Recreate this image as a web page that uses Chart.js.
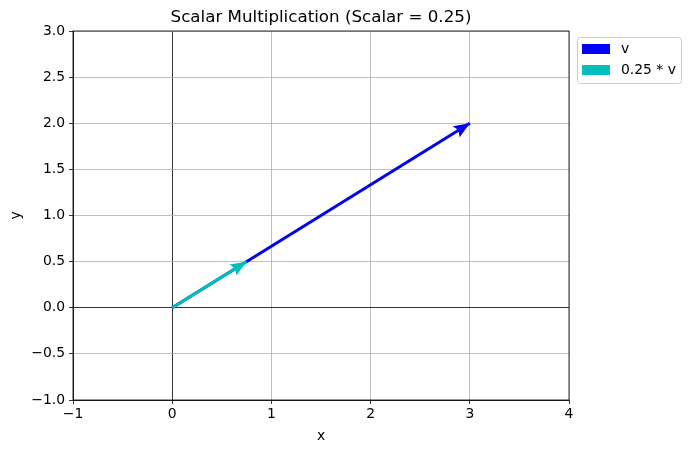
<!DOCTYPE html>
<html>
<head>
<meta charset="utf-8">
<script src="https://cdn.jsdelivr.net/npm/chart.js@4.4.1/dist/chart.umd.min.js"></script>
<style>
    html, body { margin: 0; padding: 0; background: #fff; }
    #wrap { width: 690px; height: 453px; }
</style>
</head>
<body>
<div id="wrap"><canvas id="chart" width="690" height="453"></canvas></div>
<script>
// Chart data
const vectorLabels = ['v', '0.25 * v'];
const vectorX = [3, 0.75];
const vectorY = [2, 0.5];
const vectorColors = ['#0000ff', '#00bfbf'];
const xTicks = [-1, 0, 1, 2, 3, 4];
const yTicks = [-1, -0.5, 0, 0.5, 1, 1.5, 2, 2.5, 3];

const FONT = '"DejaVu Sans", sans-serif';
const SHAFT = 3;

// Arrowheads, title, top/right spines and legend
const extras = {
    id: 'extras',
    afterDatasetsDraw(chart) {
        const ctx = chart.ctx;
        const xs = chart.scales.x, ys = chart.scales.y;
        // heads in dataset drawing order (blue first, cyan on top)
        [0, 1].forEach(i => {
            const x0 = xs.getPixelForValue(0), y0 = ys.getPixelForValue(0);
            const x1 = xs.getPixelForValue(vectorX[i]), y1 = ys.getPixelForValue(vectorY[i]);
            const ang = Math.atan2(y1 - y0, x1 - x0);
            const hl = 16, hal = 14, hw = 6.5;
            ctx.save();
            ctx.translate(x1, y1);
            ctx.rotate(ang);
            ctx.beginPath();
            ctx.moveTo(0, 0);
            ctx.lineTo(-hl, -hw);
            ctx.lineTo(-hal, -SHAFT / 2);
            ctx.lineTo(-hal, SHAFT / 2);
            ctx.lineTo(-hl, hw);
            ctx.closePath();
            ctx.fillStyle = vectorColors[i];
            ctx.fill();
            ctx.restore();
        });
    },
    afterDraw(chart) {
        const ctx = chart.ctx;
        const a = chart.chartArea;
        ctx.save();
        // frame
        ctx.strokeStyle = '#000';
        ctx.lineWidth = 0.8;
        ctx.strokeRect(a.left, a.top, a.right - a.left, a.bottom - a.top);

        // title
        ctx.fillStyle = '#000';
        ctx.font = '16.7px ' + FONT;
        ctx.textAlign = 'center';
        ctx.textBaseline = 'alphabetic';
        ctx.fillText('Scalar Multiplication (Scalar = 0.25)', (a.left + a.right) / 2, 22);

        // legend box
        const lx = 577, ly = 37, lw = 104, lh = 46;
        ctx.beginPath();
        ctx.roundRect(lx + 0.5, ly + 0.5, lw, lh, 3);
        ctx.fillStyle = 'rgba(255,255,255,0.8)';
        ctx.fill();
        ctx.strokeStyle = '#cccccc';
        ctx.lineWidth = 1;
        ctx.stroke();
        ctx.font = '13.9px ' + FONT;
        ctx.textAlign = 'left';
        ctx.textBaseline = 'middle';
        vectorLabels.forEach((lab, i) => {
            const ry = 44 + i * 21;
            ctx.fillStyle = vectorColors[i];
            ctx.fillRect(582, ry, 28, 10);
            ctx.fillStyle = '#000';
            ctx.fillText(lab, 621, ry + 5);
        });
        ctx.restore();
    }
};

const datasets = vectorLabels.map((lab, i) => ({
    label: lab,
    data: [{ x: 0, y: 0 }, { x: vectorX[i], y: vectorY[i] }],
    borderColor: vectorColors[i],
    backgroundColor: vectorColors[i],
    borderWidth: SHAFT,
    borderCapStyle: 'butt',
    pointRadius: 0,
    order: 2 - i
}));

new Chart(document.getElementById('chart'), {
    type: 'line',
    data: { datasets },
    options: {
        responsive: false,
        animation: false,
        layout: { padding: { left: 0, top: 31, right: 121, bottom: 0 } },
        plugins: {
            legend: { display: false },
            title: { display: false },
            tooltip: { enabled: false }
        },
        scales: {
            x: {
                type: 'linear',
                min: -1, max: 4,
                afterFit: s => { s.height = 53; },
                afterBuildTicks: s => { s.ticks = xTicks.map(v => ({ value: v })); },
                ticks: {
                    color: '#000',
                    font: { family: FONT, size: 13.9 },
                    padding: 2,
                    maxRotation: 0,
                    callback: v => String(v).replace('-', '\u2212')
                },
                grid: {
                    color: c => (c.tick && c.tick.value === 0) ? '#000' : '#b0b0b0',
                    lineWidth: 0.8,
                    tickLength: 4,
                    tickColor: '#000'
                },
                border: { color: '#000', width: 0.8 },
                title: {
                    display: true, text: 'x', color: '#000',
                    font: { family: FONT, size: 13.9 },
                    padding: { top: 0, bottom: 8 }
                }
            },
            y: {
                type: 'linear',
                min: -1, max: 3,
                afterFit: s => { s.width = 73; },
                afterBuildTicks: s => { s.ticks = yTicks.map(v => ({ value: v })); },
                ticks: {
                    color: '#000',
                    font: { family: FONT, size: 13.9 },
                    padding: 4,
                    callback: v => v.toFixed(1).replace('-', '\u2212')
                },
                grid: {
                    color: c => (c.tick && c.tick.value === 0) ? '#000' : '#b0b0b0',
                    lineWidth: 0.8,
                    tickLength: 4,
                    tickColor: '#000'
                },
                border: { color: '#000', width: 0.8 },
                title: {
                    display: true, text: 'y', color: '#000',
                    font: { family: FONT, size: 13.9 },
                    padding: { top: 8, bottom: 0 }
                }
            }
        }
    },
    plugins: [extras]
});
</script>
</body>
</html>
